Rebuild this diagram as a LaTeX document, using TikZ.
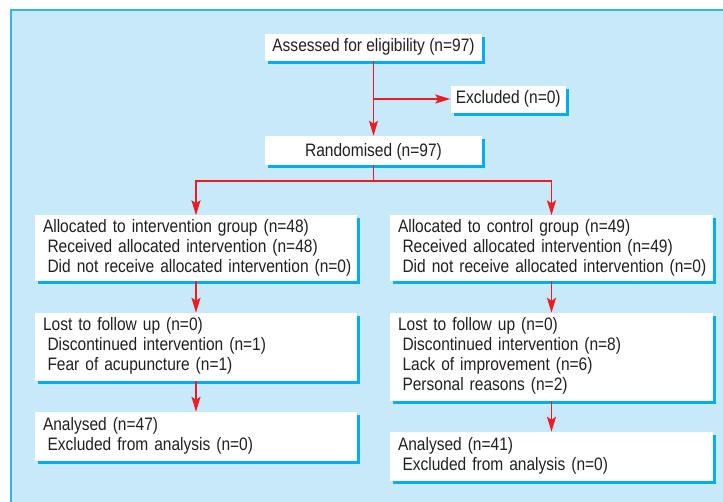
\documentclass[tikz,border=0pt]{standalone}
\usepackage{fontspec}
\setmainfont{Liberation Sans}[FakeStretch=0.862]
\usetikzlibrary{arrows.meta,shadows}
\definecolor{panelblue}{HTML}{C8EAF8}
\definecolor{borderblue}{HTML}{33B5E5}
\definecolor{shadowblue}{HTML}{00AEEF}
\definecolor{linered}{HTML}{ED1C24}
\definecolor{textgray}{HTML}{231F20}
\newcommand\lstrut{\rule[-6pt]{0pt}{20pt}}
\newcommand\lowstrut{\rule[-4pt]{0pt}{20pt}}
\newcommand\bxline[1]{\lstrut\mbox{#1}}
\newcommand\bxind[1]{\lstrut\hspace*{4.5pt}\mbox{#1}}
\tikzset{
  box/.style={fill=white, inner xsep=8pt, inner ysep=0pt, text=textgray,
    font=\fontsize{18}{20}\selectfont,
    general shadow={fill=shadowblue, shadow xshift=3pt, shadow yshift=-3pt}},
  lbox/.style={box, align=left},
  cbox/.style={box, align=center},
  arr/.style={draw=linered, line width=1.8pt, -{Stealth[length=15pt,width=9pt,inset=3pt]}},
  plain/.style={draw=linered, line width=1.8pt}
}
\begin{document}
\begin{tikzpicture}[x=1pt,y=-1pt]
\useasboundingbox (0,0) rectangle (723,502);
\fill[panelblue] (10.3,9.4) rectangle (723,502);
\draw[borderblue, line width=1.7pt] (11.2,502) -- (11.2,10.2) -- (723,10.2);

\node[box, inner xsep=4pt, minimum width=217pt, minimum height=27pt] (A) at (373.5,47.5)
  {\lstrut Assessed for eligibility (n=97)};
\node[box, inner xsep=4pt, minimum width=115.5pt, minimum height=26.5pt] (E) at (508.25,99.75)
  {\lstrut Excluded (n=0)};
\node[box, inner xsep=4pt, minimum width=217pt, minimum height=29pt] (R) at (373.5,150.5)
  {\lowstrut Randomised (n=97)};

\node[lbox, minimum width=322pt, minimum height=65.5pt, text width=306pt] (L1) at (196,248.25)
  {\bxline{Allocated to intervention group (n=48)}\\
   \bxind{Received allocated intervention (n=48)}\\
   \bxind{Did not receive allocated intervention (n=0)}};
\node[lbox, minimum width=323pt, minimum height=65.5pt, text width=307pt] (R1) at (551.5,248.25)
  {\bxline{Allocated to control group (n=49)}\\
   \bxind{Received allocated intervention (n=49)}\\
   \bxind{Did not receive allocated intervention (n=0)}};

\node[lbox, minimum width=322pt, minimum height=68pt, text width=306pt] (L2) at (196,347)
  {\bxline{Lost to follow up (n=0)}\\
   \bxind{Discontinued intervention (n=1)}\\
   \bxind{Fear of acupuncture (n=1)}};
\node[lbox, minimum width=323pt, minimum height=88pt, text width=307pt] (R2) at (551.5,357)
  {\bxline{Lost to follow up (n=0)}\\
   \bxind{Discontinued intervention (n=8)}\\
   \bxind{Lack of improvement (n=6)}\\
   \bxind{Personal reasons (n=2)}};

\node[lbox, minimum width=322pt, minimum height=49pt, text width=306pt] (L3) at (196,436.5)
  {\bxline{Analysed (n=47)}\\
   \bxind{Excluded from analysis (n=0)}};
\node[lbox, minimum width=323pt, minimum height=49pt, text width=307pt] (R3) at (551.5,456.5)
  {\bxline{Analysed (n=41)}\\
   \bxind{Excluded from analysis (n=0)}};

\coordinate (b1) at (373.5,99);
\coordinate (split) at (373.5,181);
\draw[arr] (A.south) -- (R.north);
\draw[arr] (b1) -- (E.west |- b1);
\draw[plain] (R.south) -- (split);
\draw[arr] (split) -| (L1.north);
\draw[arr] (split) -| (R1.north);
\draw[arr] (L1.south) -- (L2.north);
\draw[arr] (R1.south) -- (R2.north);
\draw[arr] (L2.south) -- (L3.north);
\draw[arr] (R2.south) -- (R3.north);
\end{tikzpicture}
\end{document}
